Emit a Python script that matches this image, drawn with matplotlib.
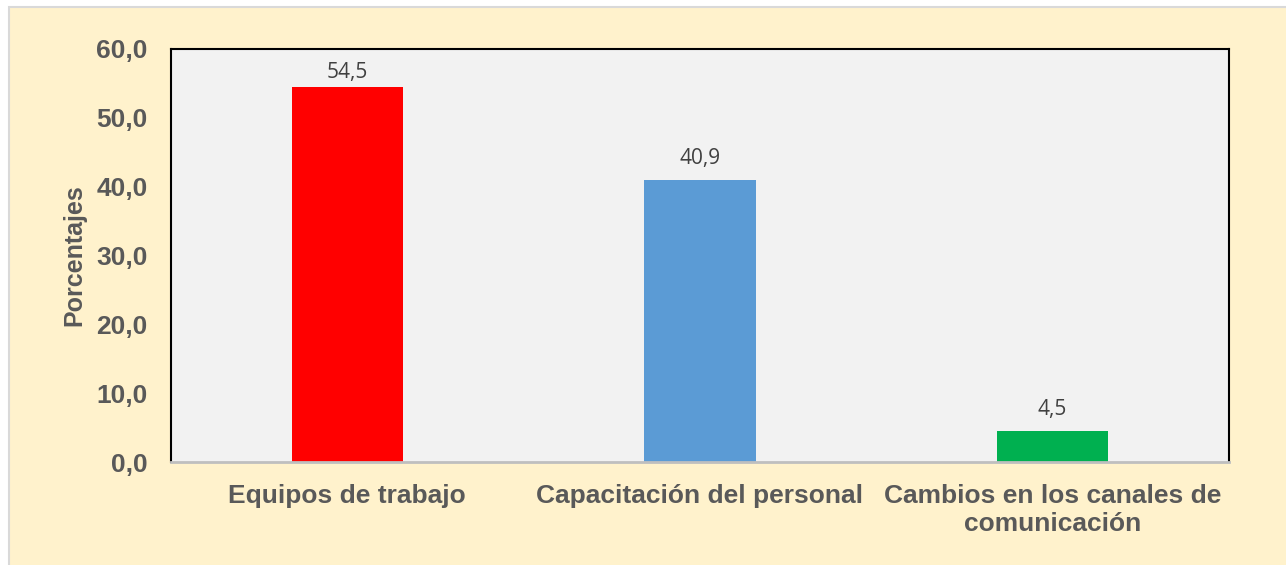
import matplotlib.pyplot as plt
from matplotlib.patches import Rectangle
from matplotlib.ticker import FuncFormatter

categories = ["Equipos de trabajo", "Capacitación del personal", "Cambios en los canales de\ncomunicación"]
values = [54.5, 40.9, 4.5]
colors = ["#FF0000", "#5B9BD5", "#00B050"]
yticks = [0, 10, 20, 30, 40, 50, 60]

plt.rcParams["font.family"] = ["Liberation Sans", "DejaVu Sans"]

fig = plt.figure(figsize=(12.86, 5.65), dpi=100)
fig.patch.set_facecolor("white")
# yellow chart-area background with thin gray border, behind the axes
fig.add_artist(Rectangle((9 / 1286, -0.01), 1.02, (558 / 565) + 0.01, transform=fig.transFigure,
	facecolor="#FFF2CC", edgecolor="#D9D9D9", linewidth=1.5, zorder=-10))

ax = fig.add_axes([171 / 1286, 103 / 565, 1058 / 1286, 413 / 565])
ax.set_facecolor("#F2F2F2")
x = range(len(categories))
bars = ax.bar(x, values, width=0.315, color=colors, zorder=2)
ax.set_xlim(-0.5, 2.5)
ax.set_ylim(0, 60)
ax.set_yticks(yticks)
ax.yaxis.set_major_formatter(FuncFormatter(lambda y, _: f"{y:.1f}".replace(".", ",")))
ax.set_xticks(list(x))
ax.set_xticklabels(categories)
ax.tick_params(axis="both", length=0, labelcolor="#595959", labelsize=19)
ax.tick_params(axis="y", pad=17)
ax.tick_params(axis="x", pad=16)
for label in ax.get_xticklabels() + ax.get_yticklabels():
	label.set_fontweight("bold")
ax.set_ylabel("Porcentajes", fontsize=18, fontweight="bold", color="#595959", labelpad=7)

for spine in ["left", "top", "right"]:
	ax.spines[spine].set_color("black")
	ax.spines[spine].set_linewidth(1.5)
ax.spines["bottom"].set_color("#BFBFBF")
ax.spines["bottom"].set_linewidth(2)

for bar, value in zip(bars, values):
	# labels near the top of the plot area are pulled down a bit
	offset = 3 if value > 50 else 8
	ax.annotate(f"{value:.1f}".replace(".", ","), (bar.get_x() + bar.get_width() / 2, value),
		xytext=(0, offset), textcoords="offset points", ha="center", va="bottom",
		fontsize=15, color="#404040", family=["Open Sans", "DejaVu Sans"])

fig.savefig("out.png", dpi=100, facecolor=fig.get_facecolor())
